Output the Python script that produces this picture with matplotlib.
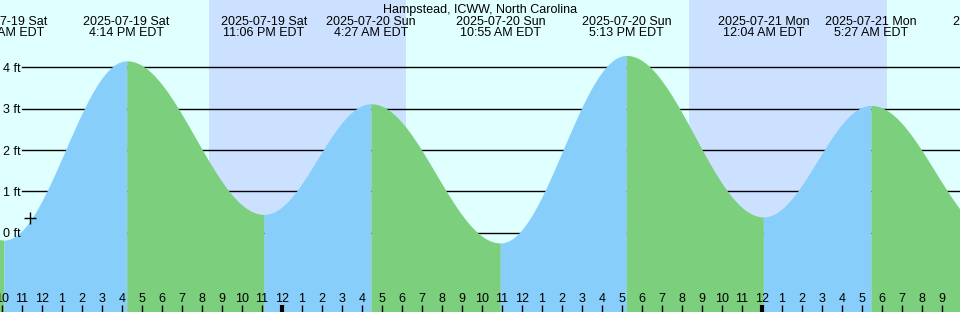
import matplotlib.pyplot as plt
import matplotlib.transforms as mtransforms
import numpy as np
import pandas as pd

plt.rcParams['font.family'] = ['Liberation Sans', 'DejaVu Sans']

station = "Hampstead, ICWW, North Carolina"

# high / low tides (EDT) and heights in ft
tide_times = ["2025-07-19 03:50", "2025-07-19 10:06", "2025-07-19 16:14", "2025-07-19 23:06",
              "2025-07-20 04:27", "2025-07-20 10:55", "2025-07-20 17:13", "2025-07-21 00:04",
              "2025-07-21 05:27", "2025-07-21 11:50"]
tide_heights = [3.0, -0.18, 4.16, 0.44, 3.12, -0.25, 4.29, 0.38, 3.08, -0.1]

# night (sunset -> sunrise)
night_start = ["2025-07-19 20:21", "2025-07-20 20:21"]
night_end = ["2025-07-20 06:12", "2025-07-21 06:15"]

level_lines = [0, 1, 2, 3, 4]
marker_time = "2025-07-19 11:24"
marker_height = 0.35

ref = pd.Timestamp("2025-07-20 00:00")


def hours(s):
    return (pd.Timestamp(s) - ref).total_seconds() / 3600.0


bg = "#e0ffff"
night_col = "#cce0ff"
rise_col = "#87cefa"
fall_col = "#7ccf7c"

fig = plt.figure(figsize=(9.6, 3.12), dpi=100, facecolor=bg)
ax = fig.add_axes([0, 0, 1, 1])
ax.set_facecolor(bg)
ax.set_xlim(-14.1, 33.9)
ax.set_ylim(-1.922, 5.632)
ax.axis("off")
fig.patch.set_facecolor(bg)

for a, b in zip(night_start, night_end):
    ax.axvspan(hours(a), hours(b), color=night_col, lw=0, zorder=0)

ytr = mtransforms.blended_transform_factory(ax.transAxes, ax.transData)
for lv in level_lines:
    ax.axhline(lv, xmin=22 / 960, xmax=1, color="black", lw=1, zorder=1)
    ax.text(3 / 960, lv, f"{lv} ft", transform=ytr, ha="left", va="center_baseline",
            fontsize=9, zorder=4)

# tide curve, rising blue / falling green
th = [hours(t) for t in tide_times]
for i in range(len(th) - 1):
    t = np.linspace(th[i], th[i + 1], 120)
    h0, h1 = tide_heights[i], tide_heights[i + 1]
    h = h1 + (h0 - h1) * (1 + np.cos(np.pi * (t - th[i]) / (th[i + 1] - th[i]))) / 2
    col = rise_col if h1 > h0 else fall_col
    ax.fill_between(t, -1.922, h, color=col, lw=0, zorder=2)

ax.plot(hours(marker_time), marker_height, marker="+", color="black", ms=9, mew=1, zorder=4)

xtr = mtransforms.blended_transform_factory(ax.transData, ax.transAxes)

# event labels
for t in tide_times[1:]:
    ts = pd.Timestamp(t)
    hr = ts.hour % 12 or 12
    ampm = "AM" if ts.hour < 12 else "PM"
    ax.text(hours(t), 1 - 20.5 / 312, ts.strftime("%Y-%m-%d %a"), transform=xtr,
            ha="center", va="center_baseline", fontsize=9, zorder=5)
    ax.text(hours(t), 1 - 32 / 312, f"{hr}:{ts.minute:02d} {ampm} EDT", transform=xtr,
            ha="center", va="center_baseline", fontsize=9, zorder=5)

ax.text(0.5, 1 - 8.5 / 312, station, transform=ax.transAxes, ha="center",
        va="center_baseline", fontsize=9, zorder=5)

# hour ticks
for hh in range(-14, 34):
    lw = 3 if hh % 24 == 0 else 1
    ax.vlines(hh, 0, 7 / 312, transform=xtr, color="black", lw=lw, zorder=4)
    ax.text(hh, 1 - 298 / 312, str(hh % 12 or 12), transform=xtr,
            ha="center", va="center_baseline", fontsize=9, zorder=4)

fig.savefig("out.png", dpi=100, facecolor=bg)
